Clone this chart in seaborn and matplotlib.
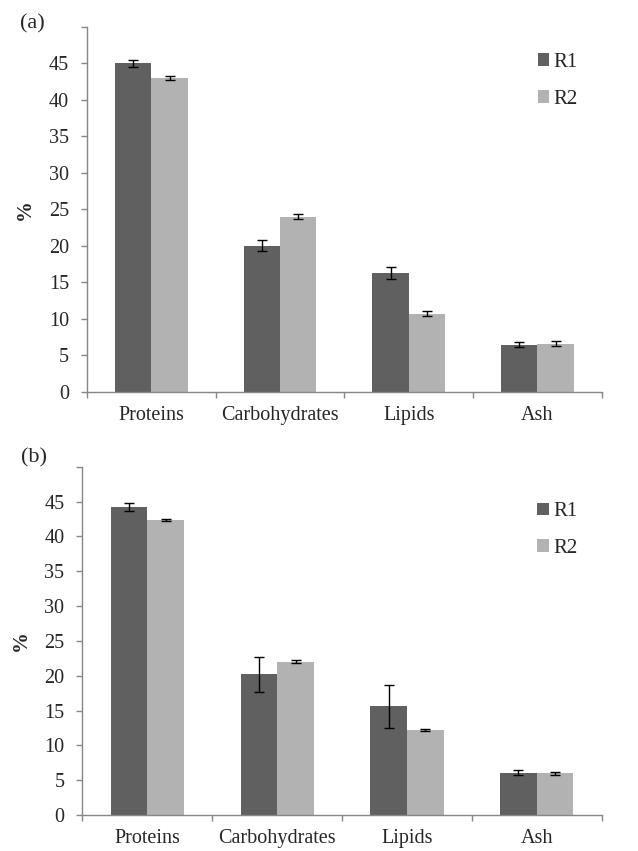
import matplotlib
matplotlib.use("Agg")
import matplotlib.pyplot as plt
import seaborn as sns
import pandas as pd
import numpy as np
from matplotlib.ticker import FixedLocator

categories = ["Proteins", "Carbohydrates", "Lipids", "Ash"]
series = ["R1", "R2"]

# Panel (a)
a_r1 = [45.0, 20.0, 16.3, 6.45]
a_r2 = [43.0, 24.0, 10.7, 6.6]
a_r1_err = [0.45, 0.73, 0.85, 0.37]
a_r2_err = [0.25, 0.3, 0.34, 0.3]

# Panel (b)
b_r1 = [44.2, 20.2, 15.6, 6.1]
b_r2 = [42.3, 22.0, 12.2, 6.0]
b_r1_err = [0.6, 2.5, 3.1, 0.33]
b_r2_err = [0.15, 0.2, 0.2, 0.2]

yticks = [0, 5, 10, 15, 20, 25, 30, 35, 40, 45, 50]
ytick_labels = ["0", "5", "10", "15", "20", "25", "30", "35", "40", "45", ""]
panel_labels = ["(a)", "(b)"]

colors = {"R1": "#606060", "R2": "#b2b2b2"}
axis_color = "#878787"

sns.set_style("white")
plt.rcParams["font.family"] = ["Liberation Serif", "DejaVu Serif"]

fig = plt.figure(figsize=(6.38, 8.51), dpi=100)
ax_a = fig.add_axes([0.1364, 0.5397, 0.8067, 0.4289])
ax_b = fig.add_axes([0.1293, 0.0423, 0.8138, 0.4093])

panels = [
    (ax_a, a_r1, a_r2, a_r1_err, a_r2_err, 0.928),
    (ax_b, b_r1, b_r2, b_r1_err, b_r2_err, 0.898),
]

for i, (ax, r1, r2, e1, e2, leg_y) in enumerate(panels):
    df = pd.DataFrame({
        "Component": categories * 2,
        "Series": ["R1"] * len(categories) + ["R2"] * len(categories),
        "Value": list(r1) + list(r2),
    })
    sns.barplot(data=df, x="Component", y="Value", hue="Series",
                order=categories, hue_order=series, palette=colors,
                width=0.565, gap=0, errorbar=None, ax=ax,
                edgecolor="none", linewidth=0, saturation=1)
    errs = [e1, e2]
    for cont, err in zip(ax.containers, errs):
        xs = [p.get_x() + p.get_width() / 2 for p in cont.patches]
        hs = [p.get_height() for p in cont.patches]
        ax.errorbar(xs, hs, yerr=err, fmt="none", ecolor="black",
                    elinewidth=1.0, capsize=3.3, capthick=1.0, zorder=5)

    ax.set_xlim(-0.5, len(categories) - 0.5)
    ax.set_ylim(0, 50)
    ax.set_yticks(yticks)
    ax.set_yticklabels(ytick_labels, fontsize=14.5)
    ax.set_xticks(range(len(categories)))
    ax.set_xticklabels(categories, fontsize=14.5)
    ax.xaxis.set_minor_locator(FixedLocator(np.arange(-0.5, len(categories), 1.0)))
    ax.tick_params(axis="x", which="major", length=0, pad=10)
    ax.tick_params(axis="x", which="minor", length=4, color=axis_color, width=1,
                   direction="out", bottom=True)
    ax.tick_params(axis="y", which="major", length=4, color=axis_color, width=1,
                   direction="out", pad=9, left=True)
    for s in ["top", "right"]:
        ax.spines[s].set_visible(False)
    for s in ["left", "bottom"]:
        ax.spines[s].set_color(axis_color)
        ax.spines[s].set_linewidth(1.0)
    ax.set_xlabel("")
    ax.set_ylabel("%", fontsize=15, fontweight="bold", labelpad=10)

    ax.legend(loc="upper left", bbox_to_anchor=(0.876, leg_y), frameon=False,
              fontsize=15, handlelength=0.55, handleheight=0.55,
              handletextpad=0.2, labelspacing=0.85, borderaxespad=0, borderpad=0)

fig.text(20 / 638, 1 - 24 / 851, panel_labels[0], fontsize=16, ha="left", va="center")
fig.text(21 / 638, 1 - 458 / 851, panel_labels[1], fontsize=16, ha="left", va="center")

fig.savefig("out.png", dpi=100)
